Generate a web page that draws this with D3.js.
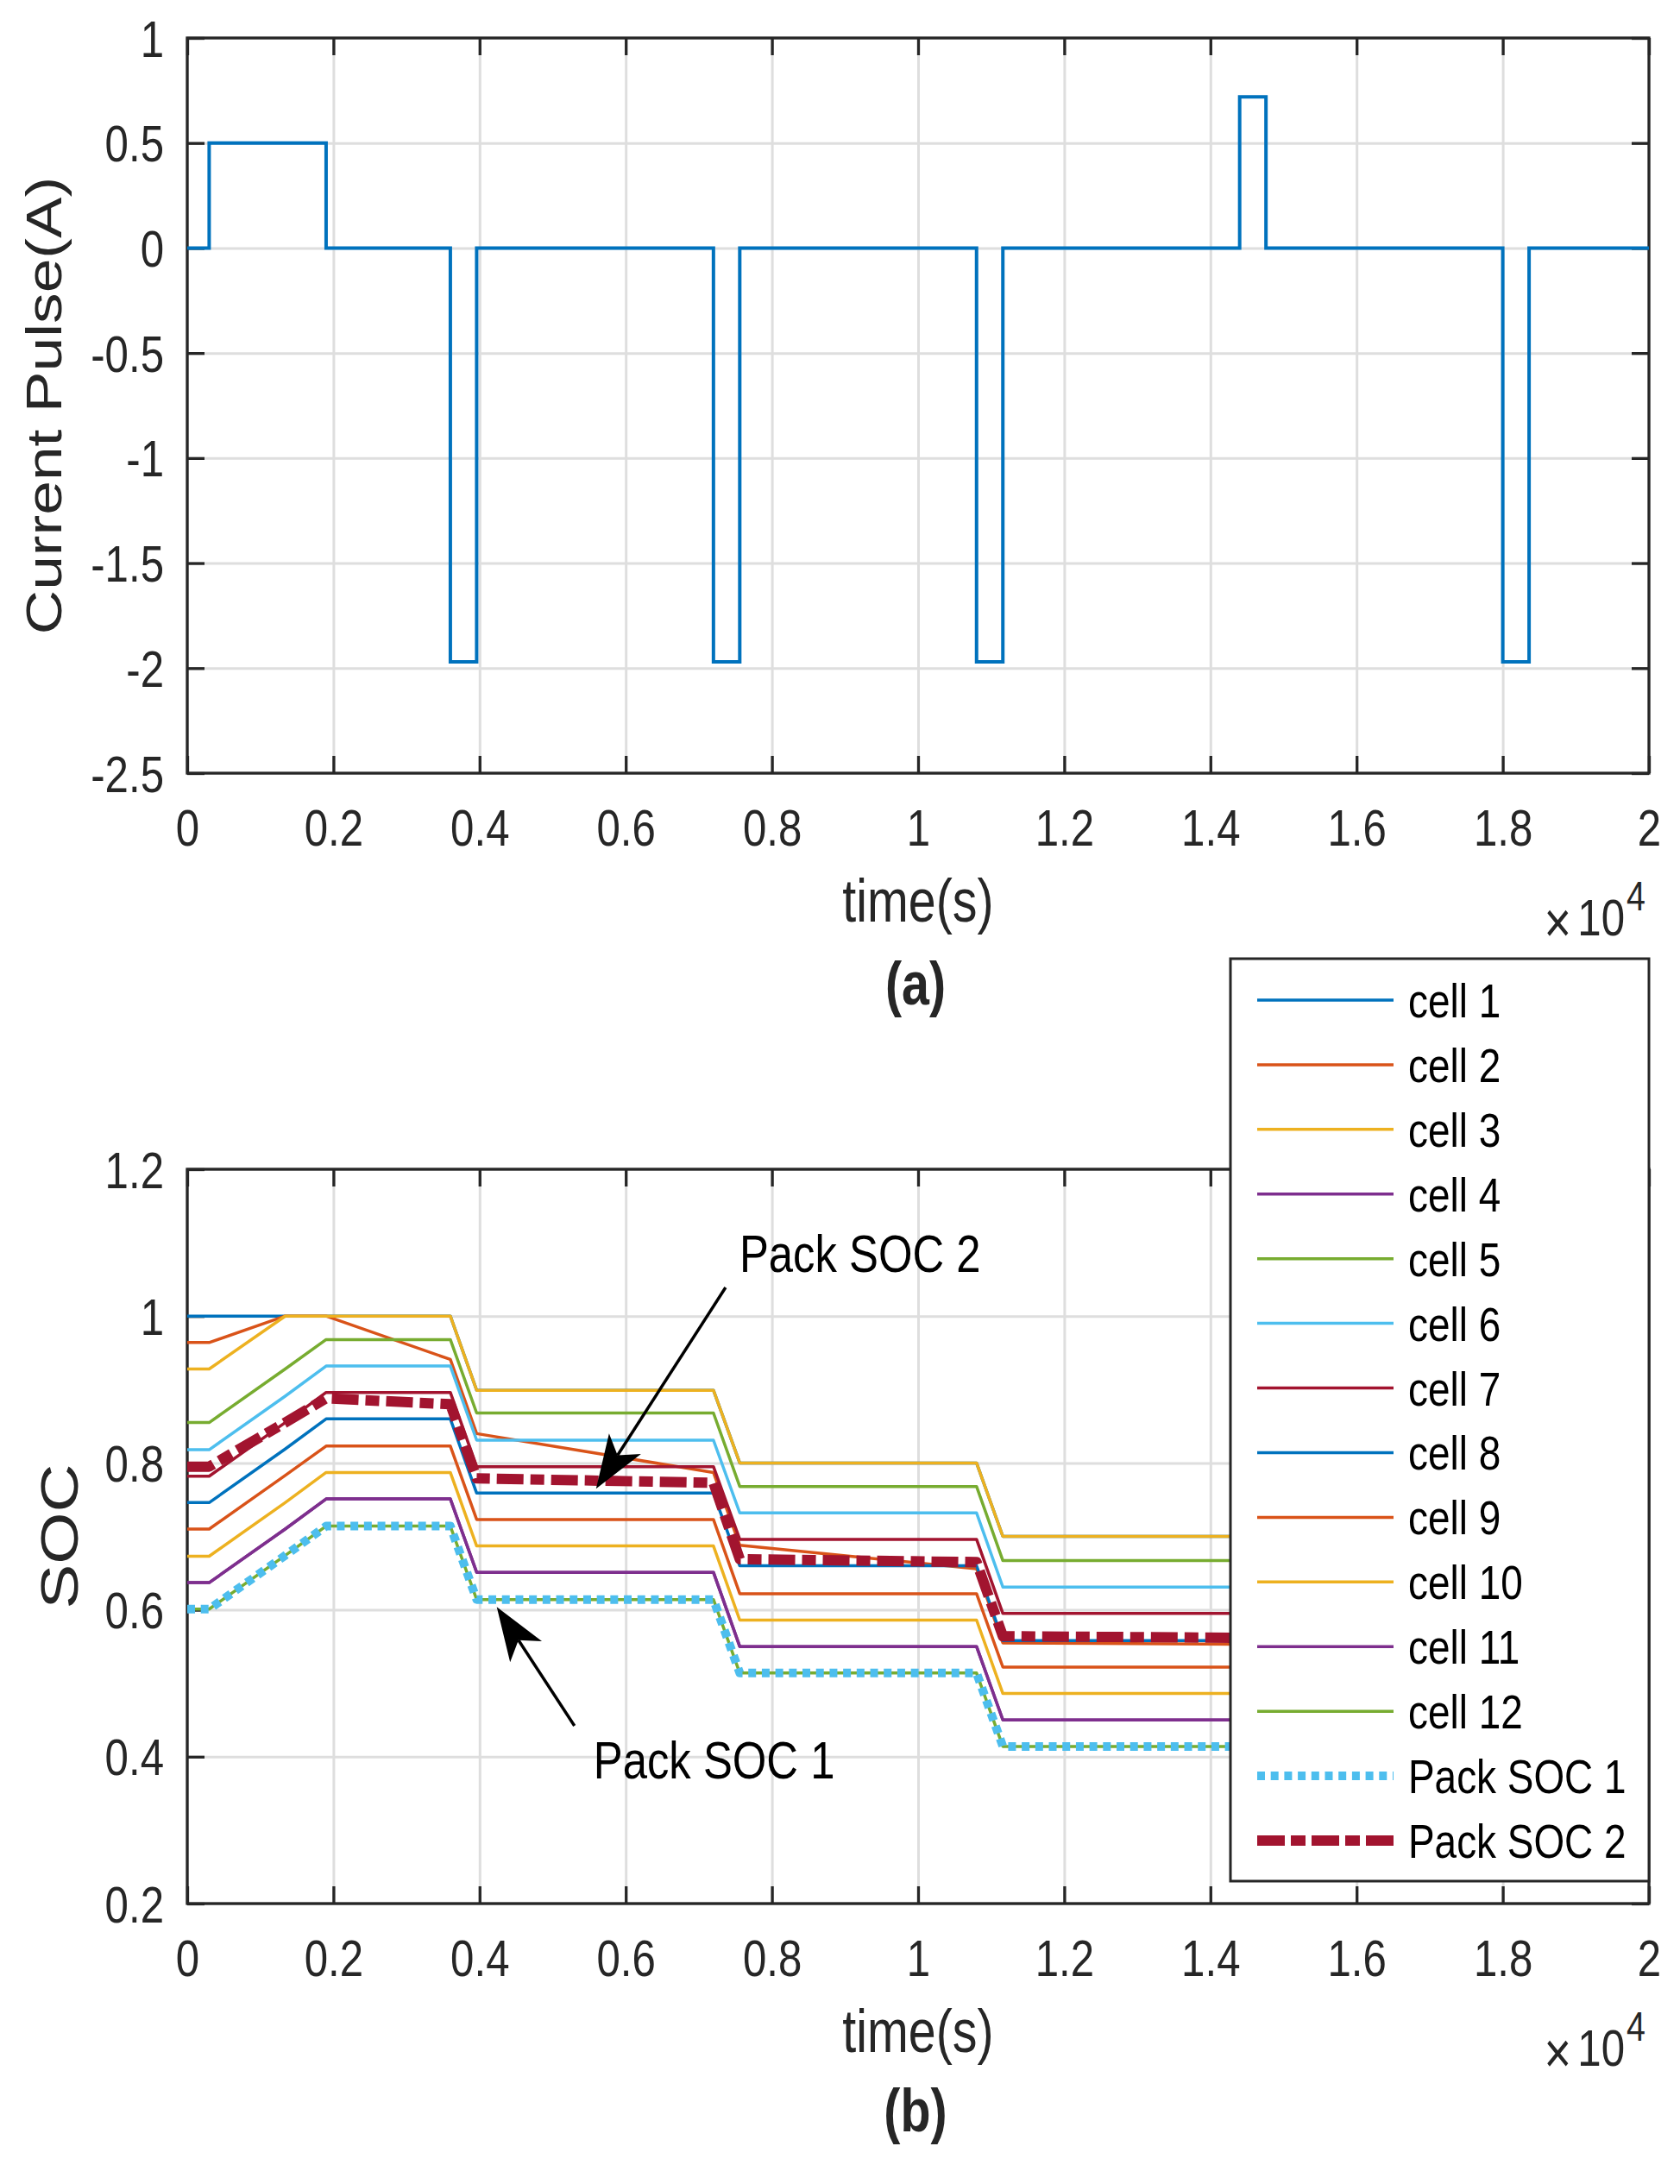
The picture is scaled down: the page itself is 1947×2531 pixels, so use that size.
<!DOCTYPE html>
<html>
<head>
<meta charset="utf-8">
<script src="https://cdn.jsdelivr.net/npm/d3@7"></script>
<style>
  body { margin: 0; background: #fff; }
  text { font-family: "Liberation Sans", Arial, Helvetica, sans-serif; }
</style>
</head>
<body>
<div class="chart"></div>
<script>
// ---- data ----
// (a) current pulse, step function (value holds until next time)
const tCurrent = [0, 300, 1900, 3600, 3960, 7200, 7560, 10800, 11160, 14400, 14760, 18000, 18360, 20000];
const current  = [0, 0.5, 0, -1.97, 0, -1.97, 0, -1.97, 0, 0.72, 0, -1.97, 0, 0];

// (b) SOC, sampled at the corners of the piecewise-linear traces
const tSoc   = [0, 300, 1340, 1900, 3600, 3960, 7200, 7560, 10800, 11160, 14400, 14760, 18000, 18360, 20000];
const cell1  = [1.000, 1.000, 1.000, 1.000, 1.000, 0.899, 0.899, 0.800, 0.800, 0.700, 0.700, 0.737, 0.737, 0.638, 0.638];
const cell2  = [0.964, 0.964, 1.000, 1.000, 0.941, 0.840, 0.787, 0.688, 0.656, 0.555, 0.553, 0.590, 0.588, 0.489, 0.488];
const cell3  = [0.928, 0.928, 1.000, 1.000, 1.000, 0.899, 0.899, 0.800, 0.800, 0.700, 0.700, 0.737, 0.737, 0.638, 0.638];
const cell4  = [0.637, 0.637, 0.710, 0.751, 0.751, 0.651, 0.651, 0.550, 0.550, 0.450, 0.450, 0.487, 0.487, 0.388, 0.388];
const cell5  = [0.855, 0.855, 0.928, 0.968, 0.968, 0.868, 0.868, 0.768, 0.768, 0.667, 0.667, 0.704, 0.704, 0.605, 0.605];
const cell6  = [0.818, 0.818, 0.891, 0.932, 0.932, 0.831, 0.831, 0.732, 0.732, 0.631, 0.631, 0.668, 0.668, 0.569, 0.569];
const cell7  = [0.782, 0.782, 0.855, 0.896, 0.896, 0.795, 0.795, 0.696, 0.696, 0.595, 0.595, 0.632, 0.632, 0.533, 0.533];
const cell8  = [0.746, 0.746, 0.819, 0.860, 0.860, 0.759, 0.759, 0.660, 0.660, 0.558, 0.558, 0.595, 0.595, 0.496, 0.496];
const cell9  = [0.710, 0.710, 0.783, 0.823, 0.823, 0.723, 0.723, 0.622, 0.622, 0.522, 0.522, 0.559, 0.559, 0.460, 0.460];
const cell10 = [0.673, 0.673, 0.746, 0.787, 0.787, 0.687, 0.687, 0.586, 0.586, 0.486, 0.486, 0.523, 0.523, 0.424, 0.424];
const cell11 = [0.637, 0.637, 0.710, 0.751, 0.751, 0.651, 0.651, 0.550, 0.550, 0.450, 0.450, 0.487, 0.487, 0.388, 0.388];
const cell12 = [0.601, 0.601, 0.674, 0.714, 0.714, 0.614, 0.614, 0.514, 0.514, 0.414, 0.414, 0.451, 0.451, 0.352, 0.352];
const pack1  = [0.601, 0.601, 0.674, 0.714, 0.714, 0.614, 0.614, 0.514, 0.514, 0.414, 0.414, 0.451, 0.451, 0.352, 0.352];
const pack2  = [0.795, 0.795, 0.855, 0.888, 0.880, 0.779, 0.773, 0.669, 0.665, 0.564, 0.562, 0.598, 0.596, 0.497, 0.496];

const seriesNames = ["cell 1", "cell 2", "cell 3", "cell 4", "cell 5", "cell 6", "cell 7",
                     "cell 8", "cell 9", "cell 10", "cell 11", "cell 12", "Pack SOC 1", "Pack SOC 2"];
const seriesValues = [cell1, cell2, cell3, cell4, cell5, cell6, cell7,
                      cell8, cell9, cell10, cell11, cell12, pack1, pack2];

const xTicks = [0, 2000, 4000, 6000, 8000, 10000, 12000, 14000, 16000, 18000, 20000];
const yTicksCurrent = [-2.5, -2, -1.5, -1, -0.5, 0, 0.5, 1];
const yTicksSoc = [0.2, 0.4, 0.6, 0.8, 1, 1.2];

// annotations: [time, SOC] for label, arrow tail, arrow tip
const annotations = [
    { text: "Pack SOC 2", label: [7555, 1.060], tail: [7366, 1.039], tip: [5594, 0.765] },
    { text: "Pack SOC 1", label: [5558, 0.370], tail: [5298, 0.442], tip: [4235, 0.604] }
];

// ---- styling ----
const colors = ["#0072BD", "#D95319", "#EDB120", "#7E2F8E", "#77AC30", "#4DBEEE", "#A2142F"];
const axisColor = "#262626";
const gridColor = "#dedede";
const squeeze = 0.82; // the figure's text is horizontally condensed

const plotLeft = 217, plotRight = 1911;
const aTop = 44, aBottom = 896;
const bTop = 1355, bBottom = 2206;

const svg = d3.select(".chart")
    .append("svg")
    .attr("width", 1947)
    .attr("height", 2531);

svg.append("rect").attr("width", 1947).attr("height", 2531).attr("fill", "#fff");

const x = d3.scaleLinear().domain([0, 20000]).range([plotLeft, plotRight]);
const yA = d3.scaleLinear().domain([-2.5, 1]).range([aBottom, aTop]);
const yB = d3.scaleLinear().domain([0.2, 1.2]).range([bBottom, bTop]);

function fmt(d) { return String(+d.toFixed(1)); }

function squeezedText(g, px, py, str, size, anchor, weight) {
    return g.append("text")
        .attr("transform", `translate(${px},${py}) scale(${squeeze},1)`)
        .attr("text-anchor", anchor)
        .attr("font-size", size)
        .attr("font-weight", weight || "normal")
        .attr("fill", axisColor)
        .text(str);
}

// grid, box, ticks, tick labels
function drawFrame(yScale, yTicks, top, bottom) {
    const h = bottom - top;
    const w = plotRight - plotLeft;

    // grid
    svg.append("g")
        .attr("transform", `translate(0,${bottom})`)
        .call(d3.axisBottom(x).tickValues(xTicks).tickSize(-h).tickFormat(""))
        .call(g => g.select(".domain").remove())
        .selectAll("line").attr("stroke", gridColor).attr("stroke-width", 3);
    svg.append("g")
        .attr("transform", `translate(${plotLeft},0)`)
        .call(d3.axisLeft(yScale).tickValues(yTicks).tickSize(-w).tickFormat(""))
        .call(g => g.select(".domain").remove())
        .selectAll("line").attr("stroke", gridColor).attr("stroke-width", 3);

    // inward ticks on all four sides
    const bottomAxis = svg.append("g")
        .attr("transform", `translate(0,${bottom})`)
        .call(d3.axisBottom(x).tickValues(xTicks).tickSizeInner(-20).tickSizeOuter(0)
            .tickFormat(d => fmt(d / 1e4)));
    const leftAxis = svg.append("g")
        .attr("transform", `translate(${plotLeft},0)`)
        .call(d3.axisLeft(yScale).tickValues(yTicks).tickSizeInner(-20).tickSizeOuter(0)
            .tickFormat(fmt));
    svg.append("g")
        .attr("transform", `translate(0,${top})`)
        .call(d3.axisTop(x).tickValues(xTicks).tickSizeInner(-20).tickSizeOuter(0).tickFormat(""));
    svg.append("g")
        .attr("transform", `translate(${plotRight},0)`)
        .call(d3.axisRight(yScale).tickValues(yTicks).tickSizeInner(-20).tickSizeOuter(0).tickFormat(""));

    svg.selectAll(".domain").remove();
    svg.selectAll(".tick line").filter(function () {
        return d3.select(this).attr("stroke") !== gridColor;
    }).attr("stroke", axisColor).attr("stroke-width", 3.3);

    bottomAxis.selectAll("text")
        .attr("y", null).attr("dy", null)
        .attr("transform", `translate(0,84) scale(${squeeze},1)`)
        .attr("font-size", 60)
        .attr("fill", axisColor);
    leftAxis.selectAll("text")
        .attr("x", null).attr("dy", null)
        .attr("transform", `translate(-27,21) scale(${squeeze},1)`)
        .attr("font-size", 60)
        .attr("fill", axisColor);

    // box
    svg.append("rect")
        .attr("x", plotLeft).attr("y", top)
        .attr("width", w).attr("height", h)
        .attr("fill", "none")
        .attr("stroke", axisColor)
        .attr("stroke-width", 3.3);

    // x label and exponent
    squeezedText(svg, (plotLeft + plotRight) / 2, bottom + 172, "time(s)", 70, "middle");
    squeezedText(svg, plotRight - 90, bottom + 196, "\u00d7", 66, "end");
    squeezedText(svg, plotRight - 28, bottom + 188, "10", 60, "end");
    squeezedText(svg, plotRight - 26, bottom + 159, "4", 48, "start");
}

// ---------- (a) ----------
drawFrame(yA, yTicksCurrent, aTop, aBottom);

svg.append("text")
    .attr("transform", `translate(71,${(aTop + aBottom) / 2}) rotate(-90) scale(1.25,1)`)
    .attr("text-anchor", "middle")
    .attr("font-size", 57)
    .attr("fill", axisColor)
    .text("Current Pulse(A)");

const currentLine = d3.line()
    .x((d, i) => x(tCurrent[i]))
    .y(d => yA(d))
    .curve(d3.curveStepAfter);

svg.append("path")
    .datum(current)
    .attr("d", currentLine)
    .attr("fill", "none")
    .attr("stroke", colors[0])
    .attr("stroke-width", 4);

squeezedText(svg, 1061, 1164, "(a)", 70, "middle", "bold");

// ---------- (b) ----------
drawFrame(yB, yTicksSoc, bTop, bBottom);

svg.append("text")
    .attr("transform", `translate(90,${(bTop + bBottom) / 2}) rotate(-90) scale(1.25,1)`)
    .attr("text-anchor", "middle")
    .attr("font-size", 62)
    .attr("fill", axisColor)
    .text("SOC");

const socLine = d3.line()
    .x((d, i) => x(tSoc[i]))
    .y(d => yB(d));

function seriesStyle(i) {
    if (i === 12) return { color: colors[5], width: 10, dash: "9,6.7", cap: "butt" };
    if (i === 13) return { color: colors[6], width: 12, dash: "31,8,16,8", cap: "butt" };
    return { color: colors[i % 7], width: 3.5, dash: null, cap: "butt" };
}

seriesValues.forEach(function (vals, i) {
    const s = seriesStyle(i);
    svg.append("path")
        .datum(vals)
        .attr("d", socLine)
        .attr("fill", "none")
        .attr("stroke", s.color)
        .attr("stroke-width", s.width)
        .attr("stroke-dasharray", s.dash)
        .attr("stroke-linecap", s.cap)
        .attr("stroke-linejoin", "round");
});

// annotations
function drawArrow(tail, tip) {
    const t0 = [x(tail[0]), yB(tail[1])];
    const t1 = [x(tip[0]), yB(tip[1])];
    const dx = t0[0] - t1[0], dy = t0[1] - t1[1];
    const len = Math.hypot(dx, dy);
    const ux = dx / len, uy = dy / len, nx = -uy, ny = ux;
    const headLen = 62, halfW = 22, back = 46;
    const p1 = [t1[0] + ux * headLen + nx * halfW, t1[1] + uy * headLen + ny * halfW];
    const p2 = [t1[0] + ux * headLen - nx * halfW, t1[1] + uy * headLen - ny * halfW];
    const notch = [t1[0] + ux * back, t1[1] + uy * back];

    svg.append("line")
        .attr("x1", t0[0]).attr("y1", t0[1])
        .attr("x2", notch[0]).attr("y2", notch[1])
        .attr("stroke", "#000")
        .attr("stroke-width", 3.5);
    svg.append("path")
        .attr("d", `M${t1}L${p1}L${notch}L${p2}Z`)
        .attr("fill", "#000");
}

annotations.forEach(function (a) {
    drawArrow(a.tail, a.tip);
    squeezedText(svg, x(a.label[0]), yB(a.label[1]), a.text, 62, "start").attr("fill", "#000");
});

// legend
const legendX = 1426, legendY = 1111, legendW = plotRight - 1426, legendH = 1069;
const legend = svg.append("g");
legend.append("rect")
    .attr("x", legendX).attr("y", legendY)
    .attr("width", legendW).attr("height", legendH)
    .attr("fill", "#fff")
    .attr("stroke", axisColor)
    .attr("stroke-width", 3);

const rowY = d3.scalePoint().domain(seriesNames).range([1159, 2133]);

const rows = legend.selectAll("g.row")
    .data(seriesNames)
    .enter()
    .append("g")
    .attr("class", "row")
    .attr("transform", d => `translate(0,${rowY(d)})`);

rows.append("line")
    .attr("x1", 1457).attr("x2", 1615)
    .attr("y1", 0).attr("y2", 0)
    .attr("stroke", (d, i) => seriesStyle(i).color)
    .attr("stroke-width", (d, i) => seriesStyle(i).width)
    .attr("stroke-dasharray", (d, i) => i === 13 ? "32,7,17,7" : seriesStyle(i).dash);

rows.each(function (d) {
    squeezedText(d3.select(this), 1632, 20, d, 56, "start").attr("fill", "#000");
});

squeezedText(svg, 1061, 2470, "(b)", 70, "middle", "bold");
</script>
</body>
</html>
